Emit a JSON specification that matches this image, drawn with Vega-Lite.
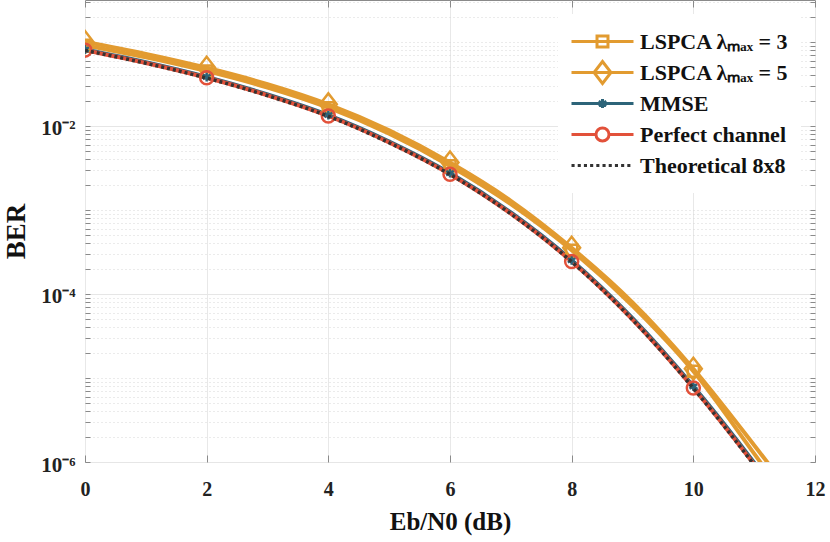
{
  "$schema": "https://vega.github.io/schema/vega-lite/v6.json",
  "width": 730,
  "height": 462,
  "autosize": {"type": "none"},
  "padding": {"left": 85, "top": 0, "right": 15, "bottom": 80},
  "background": "white",
  "config": {
    "view": {"stroke": "#8a8a8a", "strokeWidth": 1},
    "font": "Liberation Serif"
  },
  "data": {
    "values": [
      {"series": "LSPCA λₘₐₓ = 3", "x": 0, "ber": 0.0912},
      {"series": "LSPCA λₘₐₓ = 3", "x": 1, "ber": 0.0658},
      {"series": "LSPCA λₘₐₓ = 3", "x": 2, "ber": 0.0450},
      {"series": "LSPCA λₘₐₓ = 3", "x": 3, "ber": 0.0287},
      {"series": "LSPCA λₘₐₓ = 3", "x": 4, "ber": 0.0165},
      {"series": "LSPCA λₘₐₓ = 3", "x": 5, "ber": 0.00808},
      {"series": "LSPCA λₘₐₓ = 3", "x": 6, "ber": 0.00335},
      {"series": "LSPCA λₘₐₓ = 3", "x": 7, "ber": 0.001175},
      {"series": "LSPCA λₘₐₓ = 3", "x": 8, "ber": 0.000331},
      {"series": "LSPCA λₘₐₓ = 3", "x": 9, "ber": 0.0000724},
      {"series": "LSPCA λₘₐₓ = 3", "x": 10, "ber": 0.00001202},
      {"series": "LSPCA λₘₐₓ = 3", "x": 11, "ber": 0.000001259},
      {"series": "LSPCA λₘₐₓ = 3", "x": 12, "ber": 0.0000001259},
      {"series": "LSPCA λₘₐₓ = 5", "x": 0, "ber": 0.1000},
      {"series": "LSPCA λₘₐₓ = 5", "x": 1, "ber": 0.0721},
      {"series": "LSPCA λₘₐₓ = 5", "x": 2, "ber": 0.0493},
      {"series": "LSPCA λₘₐₓ = 5", "x": 3, "ber": 0.0315},
      {"series": "LSPCA λₘₐₓ = 5", "x": 4, "ber": 0.0181},
      {"series": "LSPCA λₘₐₓ = 5", "x": 5, "ber": 0.00886},
      {"series": "LSPCA λₘₐₓ = 5", "x": 6, "ber": 0.00367},
      {"series": "LSPCA λₘₐₓ = 5", "x": 7, "ber": 0.001288},
      {"series": "LSPCA λₘₐₓ = 5", "x": 8, "ber": 0.000355},
      {"series": "LSPCA λₘₐₓ = 5", "x": 9, "ber": 0.0000794},
      {"series": "LSPCA λₘₐₓ = 5", "x": 10, "ber": 0.00001288},
      {"series": "LSPCA λₘₐₓ = 5", "x": 11, "ber": 0.000001585},
      {"series": "LSPCA λₘₐₓ = 5", "x": 12, "ber": 0.0000001778},
      {"series": "MMSE", "x": 0, "ber": 0.0815},
      {"series": "MMSE", "x": 1, "ber": 0.0574},
      {"series": "MMSE", "x": 2, "ber": 0.0384},
      {"series": "MMSE", "x": 3, "ber": 0.0238},
      {"series": "MMSE", "x": 4, "ber": 0.0135},
      {"series": "MMSE", "x": 5, "ber": 0.00655},
      {"series": "MMSE", "x": 6, "ber": 0.00275},
      {"series": "MMSE", "x": 7, "ber": 0.000935},
      {"series": "MMSE", "x": 8, "ber": 0.000252},
      {"series": "MMSE", "x": 9, "ber": 0.0000515},
      {"series": "MMSE", "x": 10, "ber": 0.00000795},
      {"series": "MMSE", "x": 11, "ber": 0.00000098},
      {"series": "MMSE", "x": 12, "ber": 0.000000099},
      {"series": "Perfect channel", "x": 0, "ber": 0.0800},
      {"series": "Perfect channel", "x": 1, "ber": 0.0562},
      {"series": "Perfect channel", "x": 2, "ber": 0.0375},
      {"series": "Perfect channel", "x": 3, "ber": 0.0232},
      {"series": "Perfect channel", "x": 4, "ber": 0.01315},
      {"series": "Perfect channel", "x": 5, "ber": 0.00637},
      {"series": "Perfect channel", "x": 6, "ber": 0.002667},
      {"series": "Perfect channel", "x": 7, "ber": 0.000904},
      {"series": "Perfect channel", "x": 8, "ber": 0.000243},
      {"series": "Perfect channel", "x": 9, "ber": 0.0000495},
      {"series": "Perfect channel", "x": 10, "ber": 0.00000762},
      {"series": "Perfect channel", "x": 11, "ber": 0.000000933},
      {"series": "Perfect channel", "x": 12, "ber": 0.0000000933},
      {"series": "Theoretical 8x8", "x": 0, "ber": 0.0795},
      {"series": "Theoretical 8x8", "x": 1, "ber": 0.0558},
      {"series": "Theoretical 8x8", "x": 2, "ber": 0.0372},
      {"series": "Theoretical 8x8", "x": 3, "ber": 0.0230},
      {"series": "Theoretical 8x8", "x": 4, "ber": 0.01305},
      {"series": "Theoretical 8x8", "x": 5, "ber": 0.00632},
      {"series": "Theoretical 8x8", "x": 6, "ber": 0.00265},
      {"series": "Theoretical 8x8", "x": 7, "ber": 0.0009},
      {"series": "Theoretical 8x8", "x": 8, "ber": 0.000242},
      {"series": "Theoretical 8x8", "x": 9, "ber": 0.0000493},
      {"series": "Theoretical 8x8", "x": 10, "ber": 0.00000755},
      {"series": "Theoretical 8x8", "x": 11, "ber": 0.00000092},
      {"series": "Theoretical 8x8", "x": 12, "ber": 0.000000091}
    ]
  },
  "resolve": {
    "axis": {"x": "independent", "y": "independent"},
    "scale": {"shape": "independent"},
    "legend": {"stroke": "independent", "shape": "independent"}
  },
  "layer": [
    {
      "transform": [{"filter": "datum.series != 'Theoretical 8x8'"}],
      "mark": {"type": "line", "strokeWidth": 4, "interpolate": "monotone", "clip": true},
      "encoding": {
        "x": {
          "field": "x", "type": "quantitative",
          "scale": {"domain": [0, 12], "nice": false},
          "axis": {
            "title": "Eb/N0 (dB)",
            "values": [0, 2, 4, 6, 8, 10, 12],
            "tickSize": -7, "tickColor": "#8a8a8a", "labelPadding": 24,
            "grid": true, "gridColor": "#e8e8e8", "domain": false,
            "labelFont": "Liberation Serif", "labelFontSize": 20, "labelFontWeight": "bold", "labelColor": "#222222",
            "labelFlush": false, "labelOverlap": false,
            "titleFont": "Liberation Serif", "titleFontSize": 25, "titleFontWeight": "bold", "titleColor": "#111111",
            "titlePadding": 10
          }
        },
        "y": {
          "field": "ber", "type": "quantitative",
          "scale": {"type": "log", "domain": [0.000001, 0.3162], "nice": false},
          "axis": {
            "title": "BER",
            "values": [1e-6, 2e-6, 3e-6, 4e-6, 5e-6, 6e-6, 7e-6, 8e-6, 9e-6, 1e-5, 2e-5, 3e-5, 4e-5, 5e-5, 6e-5, 7e-5, 8e-5, 9e-5, 1e-4, 2e-4, 3e-4, 4e-4, 5e-4, 6e-4, 7e-4, 8e-4, 9e-4, 1e-3, 2e-3, 3e-3, 4e-3, 5e-3, 6e-3, 7e-3, 8e-3, 9e-3, 0.01, 0.02, 0.03, 0.04, 0.05, 0.06, 0.07, 0.08, 0.09, 0.1, 0.2, 0.3],
            "labelExpr": "(abs(log(datum.value)/LN10 - round(log(datum.value)/LN10)) < 0.001 && round(log(datum.value)/LN10) % 2 == 0) ? '10⁻' + (round(log(datum.value)/LN10) == -6 ? '⁶' : round(log(datum.value)/LN10) == -4 ? '⁴' : '²') : ''",
            "tickSize": -5, "tickColor": "#8a8a8a", "labelPadding": 15,
            "grid": true,
            "gridColor": {"condition": {"test": "abs(log(datum.value)/LN10 - round(log(datum.value)/LN10)) < 0.001 && round(log(datum.value)/LN10) % 2 == 0", "value": "#e6e6e6"}, "value": "#d6d6d6"},
            "gridDash": {"condition": {"test": "abs(log(datum.value)/LN10 - round(log(datum.value)/LN10)) < 0.001 && round(log(datum.value)/LN10) % 2 == 0", "value": []}, "value": [1, 3]},
            "domain": false,
            "labelFont": "Liberation Serif", "labelFontSize": 21, "labelFontWeight": "bold", "labelColor": "#222222",
            "labelOverlap": false, "labelFlush": false, "labelOffset": 3,
            "titleFont": "Liberation Serif", "titleFontSize": 27, "titleFontWeight": "bold", "titleColor": "#111111",
            "titlePadding": 10
          }
        },
        "color": {
          "field": "series", "type": "nominal",
          "scale": {"domain": ["LSPCA λₘₐₓ = 3", "LSPCA λₘₐₓ = 5", "MMSE", "Perfect channel"], "range": ["#E29B30", "#E29B30", "#2D6479", "#E2513A"]},
          "legend": null
        }
      }
    },
    {
      "transform": [{"filter": "datum.series != 'Theoretical 8x8' && datum.x % 2 == 0 && datum.x <= 10"}],
      "mark": {"type": "point", "filled": false, "size": 196, "strokeWidth": 2.5, "opacity": 1, "strokeOpacity": 1, "clip": true},
      "encoding": {
        "x": {
          "field": "x", "type": "quantitative",
          "scale": {"domain": [0, 12], "nice": false},
          "axis": {"orient": "top", "values": [0, 2, 4, 6, 8, 10, 12], "tickSize": -7, "tickColor": "#8a8a8a", "labels": false, "grid": false, "domain": false, "title": null}
        },
        "y": {
          "field": "ber", "type": "quantitative",
          "scale": {"type": "log", "domain": [0.000001, 0.3162], "nice": false},
          "axis": {
            "orient": "right",
            "values": [1e-6, 2e-6, 3e-6, 4e-6, 5e-6, 6e-6, 7e-6, 8e-6, 9e-6, 1e-5, 2e-5, 3e-5, 4e-5, 5e-5, 6e-5, 7e-5, 8e-5, 9e-5, 1e-4, 2e-4, 3e-4, 4e-4, 5e-4, 6e-4, 7e-4, 8e-4, 9e-4, 1e-3, 2e-3, 3e-3, 4e-3, 5e-3, 6e-3, 7e-3, 8e-3, 9e-3, 0.01, 0.02, 0.03, 0.04, 0.05, 0.06, 0.07, 0.08, 0.09, 0.1, 0.2, 0.3],
            "tickSize": -5, "tickColor": "#8a8a8a", "labels": false, "grid": false, "domain": false, "title": null
          }
        },
        "color": {
          "field": "series", "type": "nominal",
          "scale": {"domain": ["LSPCA λₘₐₓ = 3", "LSPCA λₘₐₓ = 5", "MMSE", "Perfect channel"], "range": ["#E29B30", "#E29B30", "#2D6479", "#E2513A"]},
          "legend": null
        },
        "shape": {
          "field": "series", "type": "nominal",
          "scale": {
            "domain": ["LSPCA λₘₐₓ = 3", "LSPCA λₘₐₓ = 5", "MMSE", "Perfect channel"],
            "range": [
              "M-0.79,-0.79H0.79V0.79H-0.79Z",
              "M0,-1.57L1.21,0L0,1.57L-1.21,0Z",
              "M0,-0.64V0.64M-0.554,-0.32L0.554,0.32M-0.554,0.32L0.554,-0.32",
              "M0.93,0A0.93,0.93,0,1,1,-0.93,0A0.93,0.93,0,1,1,0.93,0Z"
            ]
          },
          "legend": null
        }
      }
    },
    {
      "transform": [{"filter": "datum.series == 'Theoretical 8x8'"}],
      "mark": {"type": "line", "color": "#333333", "strokeWidth": 3.5, "strokeDash": [3, 3], "interpolate": "monotone", "clip": true},
      "encoding": {
        "x": {"field": "x", "type": "quantitative", "scale": {"domain": [0, 12], "nice": false}, "axis": null},
        "y": {"field": "ber", "type": "quantitative", "scale": {"type": "log", "domain": [0.000001, 0.3162], "nice": false}, "axis": null}
      }
    },
    {
      "transform": [{"filter": "false"}],
      "mark": {"type": "point", "filled": false, "strokeWidth": 3, "size": 3844, "opacity": 1},
      "encoding": {
        "stroke": {
          "field": "series", "type": "nominal",
          "scale": {
            "domain": ["LSPCA λₘₐₓ = 3", "LSPCA λₘₐₓ = 5", "MMSE", "Perfect channel", "Theoretical 8x8"],
            "range": ["#E29B30", "#E29B30", "#2D6479", "#E2513A", "#333333"]
          },
          "legend": {
            "title": null, "orient": "top-right", "offset": 14, "padding": 12,
            "fillColor": "white", "strokeColor": null,
            "labelFont": "Liberation Serif", "labelFontSize": 22, "labelFontWeight": "bold", "labelColor": "#111111",
            "labelLimit": 400, "labelOffset": 5,
            "symbolSize": 3844, "symbolStrokeWidth": 3, "symbolOpacity": 1, "clipHeight": 31, "rowPadding": 0
          }
        },
        "shape": {
          "field": "series", "type": "nominal",
          "scale": {
            "domain": ["LSPCA λₘₐₓ = 3", "LSPCA λₘₐₓ = 5", "MMSE", "Perfect channel", "Theoretical 8x8"],
            "range": [
              "M-1,0H1M-0.177,-0.177H0.177V0.177H-0.177Z",
              "M-1,0H1M0,-0.355L0.274,0L0,0.355L-0.274,0Z",
              "M-1,0H1M0,-0.145V0.145M-0.126,-0.073L0.126,0.073M-0.126,0.073L0.126,-0.073",
              "M-1,0H-0.21M0.21,0H1M0.21,0A0.21,0.21,0,1,1,-0.21,0A0.21,0.21,0,1,1,0.21,0Z",
              "M-1,0H-0.9M-0.8,0H-0.7M-0.6,0H-0.5M-0.4,0H-0.3M-0.2,0H-0.1M0,0H0.1M0.2,0H0.3M0.4,0H0.5M0.6,0H0.7M0.8,0H0.9"
            ]
          },
          "legend": {
            "title": null, "orient": "top-right", "offset": 14, "padding": 12,
            "fillColor": "white", "strokeColor": null,
            "labelFont": "Liberation Serif", "labelFontSize": 22, "labelFontWeight": "bold", "labelColor": "#111111",
            "labelLimit": 400, "labelOffset": 5,
            "symbolSize": 3844, "symbolStrokeWidth": 3, "symbolOpacity": 1, "clipHeight": 31, "rowPadding": 0
          }
        }
      }
    }
  ]
}
